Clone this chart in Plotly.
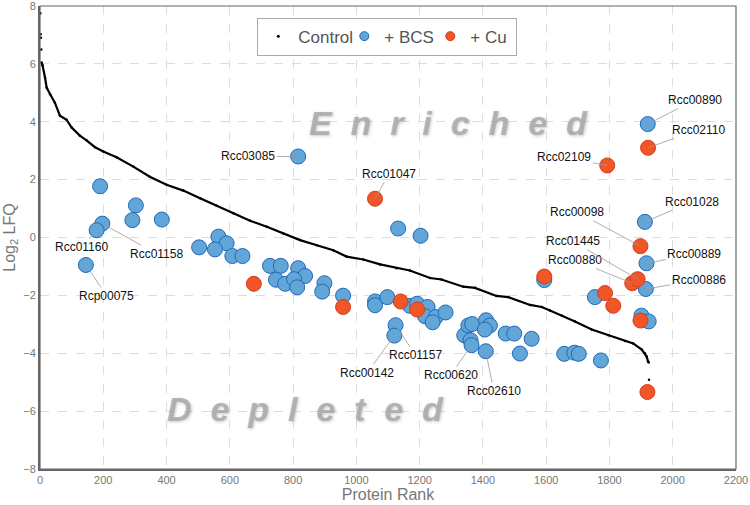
import plotly.graph_objects as go

# control curve (protein rank vs log2 LFQ)
# None breaks the line where the picture shows isolated dots
ctrl_rank = [1, None, 2, None, 3, None, 4, None,
             5, 8, 16, 21, 32, 47, 63, 84, 100, 126, 148, 174, 200, 242, 295,
             347, 400, 453, 506, 558, 611, 664, 717, 769, 822, 875, 927, 969, 1022,
             1075, 1127, 1169, 1233, 1269, 1338, 1375, 1443, 1480, 1549, 1586, 1612,
             1650, 1691, 1744, 1797, 1849, 1875, 1902, 1912, 1917, 1922, 1924, None, 1925]
ctrl_lfq = [7.75, None, 7.02, None, 6.90, None, 6.50, None,
            6.05, 5.95, 5.52, 5.18, 4.95, 4.66, 4.21, 4.07, 3.80, 3.52,
            3.35, 3.12, 2.97, 2.77, 2.45, 2.10, 1.82, 1.62, 1.36, 1.10, 0.84, 0.58, 0.37,
            0.14, -0.09, -0.27, -0.44, -0.66, -0.76, -0.93, -1.06, -1.14, -1.40, -1.45,
            -1.70, -1.74, -2.02, -2.06, -2.33, -2.40, -2.52, -2.70, -2.90, -3.18, -3.38,
            -3.58, -3.66, -3.87, -4.00, -4.10, -4.28, -4.32, None, -4.92]

# + BCS
bcs_rank = [190, 303, 292, 385, 197, 179, 145,
            503, 564, 590, 553, 608, 640,
            727, 761, 816, 838, 746, 775, 803, 813,
            899, 892, 958, 1059, 1059, 1098,
            816, 1132, 1203,
            1169, 1192, 1225, 1217, 1251, 1241, 1282,
            1124, 1120, 1341, 1354, 1366, 1361, 1364,
            1410, 1422, 1406, 1409, 1472, 1499, 1517, 1554,
            1594, 1657, 1689, 1703, 1773, 1754,
            1915, 1917, 1901, 1924, 1912, 1921]
bcs_lfq = [1.77, 1.11, 0.60, 0.62, 0.48, 0.25, -0.95,
           -0.34, 0.03, -0.20, -0.41, -0.64, -0.64,
           -0.98, -0.98, -1.06, -1.33, -1.46, -1.60, -1.44, -1.72,
           -1.58, -1.87, -2.01, -2.21, -2.34, -2.06,
           2.80, 0.31, 0.06,
           -2.36, -2.29, -2.40, -2.72, -2.75, -2.93, -2.59,
           -3.03, -3.39, -3.38, -3.04, -2.99, -3.55, -3.72,
           -2.86, -3.04, -3.18, -3.93, -3.32, -3.32, -4.01, -3.50,
           -1.47, -4.02, -3.98, -4.02, -4.25, -2.06,
           -1.78, -0.89, -2.70, -2.90, 0.54, 3.92]
bcs_id = ["", "", "", "", "Rcc01158", "Rcc01160", "Rcp00075",
          "", "", "", "", "", "",
          "", "", "", "", "", "", "", "",
          "", "", "", "", "", "",
          "Rcc03085", "", "",
          "", "", "", "", "", "", "",
          "Rcc01157", "Rcc00142", "", "", "", "", "Rcc00620",
          "", "", "", "Rcc02610", "", "", "", "",
          "", "", "", "", "", "",
          "Rcc00886", "Rcc00889", "", "", "Rcc01028", "Rcc00890"]

# + Cu
cu_rank = [1059, 676, 958, 1140, 1192, 1594, 1786, 1812, 1872, 1889, 1898, 1898, 1920, 1922, 1793]
cu_lfq = [1.34, -1.60, -2.40, -2.21, -2.49, -1.35, -1.92, -2.36, -1.58, -1.44, -0.30, -2.87,
          -5.34, 3.10, 2.49]
cu_id = ["Rcc01047", "", "", "", "", "", "", "", "Rcc00880", "Rcc01445", "Rcc00098", "",
         "", "Rcc02110", "Rcc02109"]

# label offsets in pixels (text relative to point)
offsets = {
    "Rcc03085": (-50, 0), "Rcc01047": (14, -25), "Rcc02109": (-43, -8),
    "Rcc00890": (47, -24), "Rcc02110": (50, -18), "Rcc01028": (47, -20),
    "Rcc00098": (-63, -34), "Rcc01445": (-65, -38), "Rcc00880": (-57, -23),
    "Rcc00889": (48, -9), "Rcc00886": (53, -9), "Rcc01160": (-15, 17),
    "Rcc01158": (54, 30), "Rcp00075": (21, 31), "Rcc01157": (20, 30),
    "Rcc00142": (-27, 37), "Rcc00620": (-21, 30), "Rcc02610": (8, 40),
}

font = "Liberation Sans, Arial, Helvetica, sans-serif"
blue = "rgb(98,166,216)"
blue_edge = "rgb(30,104,184)"
red = "rgb(240,86,38)"
red_edge = "rgb(214,60,30)"

fig = go.Figure()

fig.add_trace(go.Scatter(x=ctrl_rank, y=ctrl_lfq, mode="lines+markers",
                         line=dict(color="black", width=2.2),
                         marker=dict(color="black", size=2.5),
                         showlegend=False, hoverinfo="skip"))
fig.add_trace(go.Scatter(x=bcs_rank, y=bcs_lfq, mode="markers", name="+ BCS", showlegend=False,
                         marker=dict(color=blue, size=15, line=dict(color=blue_edge, width=1))))
fig.add_trace(go.Scatter(x=cu_rank, y=cu_lfq, mode="markers", name="+ Cu", showlegend=False,
                         marker=dict(color=red, size=15, line=dict(color=red_edge, width=1))))
# legend entries with the small symbols of the original
fig.add_trace(go.Scatter(x=[None], y=[None], mode="markers", name="Control",
                         marker=dict(color="black", size=3)))
fig.add_trace(go.Scatter(x=[None], y=[None], mode="markers", name="+ BCS",
                         marker=dict(color=blue, size=9, line=dict(color=blue_edge, width=1))))
fig.add_trace(go.Scatter(x=[None], y=[None], mode="markers", name="+ Cu",
                         marker=dict(color=red, size=9, line=dict(color=red_edge, width=1))))

annotations = []
for ranks, vals, ids in [(bcs_rank, bcs_lfq, bcs_id), (cu_rank, cu_lfq, cu_id)]:
    for r, v, name in zip(ranks, vals, ids):
        if not name:
            continue
        ax, ay = offsets[name]
        annotations.append(dict(x=r, y=v, xref="x", yref="y", text=name,
                                showarrow=True, arrowhead=0, arrowwidth=0.8,
                                arrowcolor="#999", ax=ax, ay=ay, standoff=0,
                                font=dict(family=font, size=12, color="#111")))

gap = "&nbsp; "
for word, xx, yy in [("Enriched", 1290, 3.97), ("Depleted", 840, -5.93)]:
    annotations.append(dict(x=xx, y=yy, xref="x", yref="y", text=gap.join(word),
                            showarrow=False,
                            font=dict(family=font, size=34, color="rgba(170,170,170,0.85)",
                                      style="italic", weight="bold",
                                      shadow="1px 1px 3px rgba(150,150,150,0.6)")))

fig.update_layout(
    width=750, height=505,
    margin=dict(l=40, r=14, t=6, b=36),
    paper_bgcolor="white", plot_bgcolor="white",
    font=dict(family=font, color="#666"),
    annotations=annotations,
    legend=dict(orientation="h", x=0.499, xanchor="center", y=0.975, yanchor="top",
                bgcolor="white", bordercolor="#aaa", borderwidth=1, itemwidth=30,
                entrywidth=41, entrywidthmode="pixels",
                font=dict(size=17, color="#555"), itemsizing="trace"),
)
fig.update_xaxes(range=[0, 2200], dtick=200, showgrid=True, gridcolor="#ddd", griddash="dash",
                 gridwidth=1, zeroline=False, showline=True, linecolor="#666", linewidth=2,
                 mirror=False, ticks="", automargin=False, ticklabeloverflow="allow",
                 tickfont=dict(size=11, color="#777"),
                 title=dict(text="Protein Rank", font=dict(size=16, color="#777"), standoff=2))
fig.update_yaxes(range=[-8, 8], dtick=2, showgrid=True, gridcolor="#ddd", griddash="dash",
                 gridwidth=1, zeroline=False, showline=True, linecolor="#666", linewidth=2,
                 mirror=False, ticks="", automargin=False, ticklabeloverflow="allow",
                 tickfont=dict(size=11, color="#777"),
                 title=dict(text="Log<sub>2</sub> LFQ", font=dict(size=16, color="#777"), standoff=4))
# thin frame on top and right
fig.add_shape(type="rect", xref="paper", yref="paper", x0=0, y0=0, x1=1, y1=1,
              line=dict(color="#666", width=1.2), layer="above")

fig.write_html("out.html", config={"displayModeBar": False},
               post_script="document.body.style.margin='0px';")
